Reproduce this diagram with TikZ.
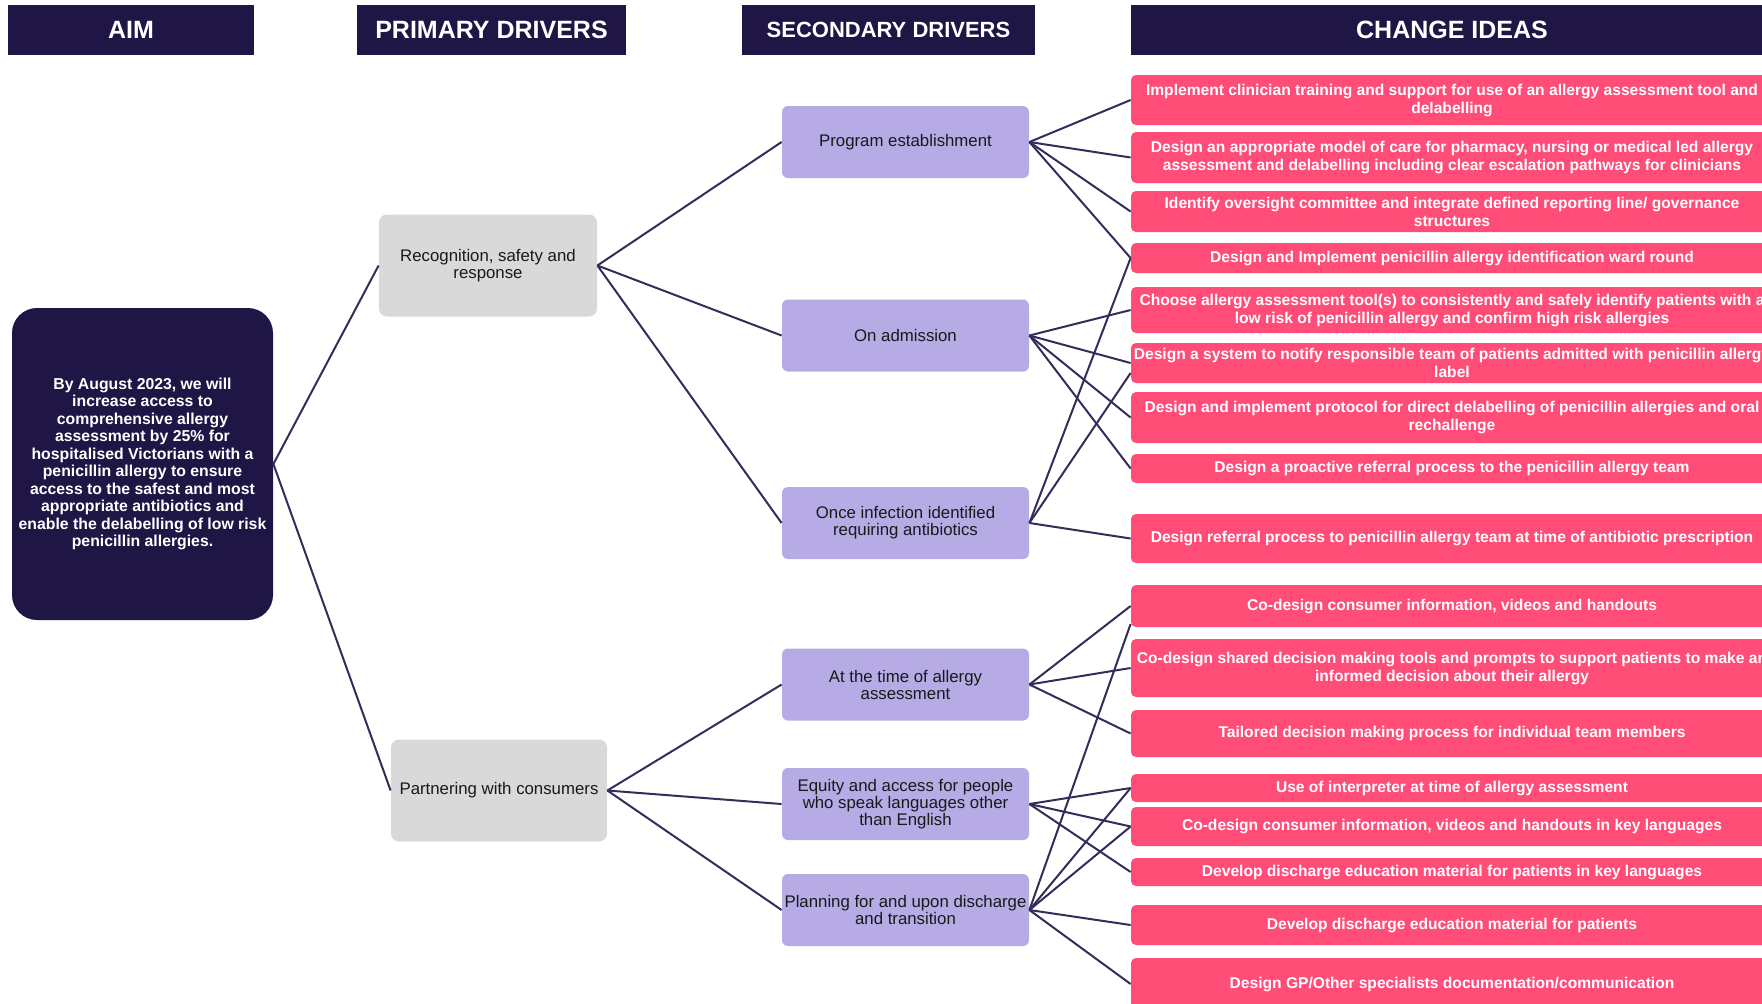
\documentclass[tikz,border=0pt]{standalone}
\usepackage{fontspec}
\setmainfont{Liberation Sans}
\usepackage{tikz}
\definecolor{dnavy}{HTML}{1F1646}
\definecolor{dpink}{HTML}{FF4D77}
\definecolor{dlilac}{HTML}{B7ABE6}
\definecolor{dgrey}{HTML}{D9D9D9}

\begin{document}
\begin{tikzpicture}[x=0.5pt,y=-0.5pt,
  head/.style={fill=dnavy,text=white,font=\bfseries\fontsize{12.5}{14}\selectfont,
               minimum height=25pt,inner sep=0pt},
  aimbox/.style={fill=dnavy,text=white,rounded corners=12.5pt,align=center,minimum width=130.5pt,
                 minimum height=156pt,inner sep=1pt,font=\bfseries\fontsize{7.9}{8.75}\selectfont},
  prim/.style={fill=dgrey,rounded corners=4pt,align=center,minimum height=51pt,
               text=black!90,font=\fontsize{8.4}{8.5}\selectfont},
  sec/.style={fill=dlilac,rounded corners=3pt,align=center,minimum width=123.5pt,minimum height=36pt,
              inner xsep=1pt,text=black!90,font=\fontsize{8.4}{8.5}\selectfont},
  idea/.style={fill=dpink,text=white,rounded corners=2.5pt,align=center,minimum width=321pt,
               inner xsep=1pt,inner ysep=0pt,font=\bfseries\fontsize{7.8}{9}\selectfont},
  link/.style={draw=dnavy!90,line width=1pt}]
  \useasboundingbox (0,0) rectangle (1762,1003);
  \fill[white] (0,0) rectangle (1762,1003);
  \clip (0,0) rectangle (1762,1003);

  % column heads
  \node[head,minimum width=123pt] (haim) at (131,30) {AIM};
  \node[head,minimum width=134.5pt] (hprim) at (491.5,30) {PRIMARY DRIVERS};
  \node[head,minimum width=146.5pt,font=\bfseries\fontsize{11}{13}\selectfont] (hsec) at (888.5,30) {SECONDARY DRIVERS};
  \node[head,minimum width=321pt] (hidea) at (1452,30) {CHANGE IDEAS};

  \node[aimbox] (aim) at (142.5,464) {By August 2023, we will\\increase access to\\comprehensive allergy\\
    assessment by 25\% for\\hospitalised Victorians with a\\penicillin allergy to ensure\\
    access to the safest and most\\appropriate antibiotics and\\enable the delabelling of low risk\\
    penicillin allergies.};

  \node[prim,minimum width=109pt] (rec) at (488,265.5) {Recognition, safety and\\response};
  \node[prim,minimum width=108pt] (par) at (499,790.5) {Partnering with consumers};

  \node[sec] (s1) at (905.5,142) {Program establishment};
  \node[sec] (s2) at (905.5,335.5) {On admission};
  \node[sec] (s3) at (905.5,523) {Once infection identified\\requiring antibiotics};
  \node[sec] (s4) at (905.5,684.5) {At the time of allergy\\assessment};
  \node[sec] (s5) at (905.5,804) {Equity and access for people\\who speak languages other\\than English};
  \node[sec] (s6) at (905.5,910) {Planning for and upon discharge\\and transition};

  \node[idea,minimum height=25pt] (i1) at (1452,100) {Implement clinician training and support for use of an allergy assessment tool and\\delabelling};
  \node[idea,minimum height=25.5pt] (i2) at (1452,157.5) {Design an appropriate model of care for pharmacy, nursing or medical led allergy\\assessment and delabelling including clear escalation pathways for clinicians};
  \node[idea,minimum height=20.5pt] (i3) at (1452,211.5) {Identify oversight committee and integrate defined reporting line/ governance\\structures};
  \node[idea,minimum height=15pt] (i4) at (1452,258) {Design and Implement penicillin allergy identification ward round};
  \node[idea,minimum height=23pt] (i5) at (1452,310) {Choose allergy assessment tool(s) to consistently and safely identify patients with a\\low risk of penicillin allergy and confirm high risk allergies};
  \node[idea,minimum height=20pt] (i6) at (1452,363) {Design a system to notify responsible team of patients admitted with penicillin allergy\\label};
  \node[idea,minimum height=25.5pt] (i7) at (1452,417.5) {Design and implement protocol for direct delabelling of penicillin allergies and oral\\rechallenge};
  \node[idea,minimum height=14.5pt] (i8) at (1452,468.5) {Design a proactive referral process to the penicillin allergy team};
  \node[idea,minimum height=24.5pt] (i9) at (1452,538.5) {Design referral process to penicillin allergy team at time of antibiotic prescription};
  \node[idea,minimum height=21pt] (i10) at (1452,606) {Co-design consumer information, videos and handouts};
  \node[idea,minimum height=29pt] (i11) at (1452,668) {Co-design shared decision making tools and prompts to support patients to make an\\informed decision about their allergy};
  \node[idea,minimum height=23.5pt] (i12) at (1452,733.5) {Tailored decision making process for individual team members};
  \node[idea,minimum height=14pt] (i13) at (1452,788) {Use of interpreter at time of allergy assessment};
  \node[idea,minimum height=19.5pt] (i14) at (1452,826.5) {Co-design consumer information, videos and handouts in key languages};
  \node[idea,minimum height=14pt] (i15) at (1452,872) {Develop discharge education material for patients in key languages};
  \node[idea,minimum height=20pt] (i16) at (1452,925) {Develop discharge education material for patients};
  \node[idea,minimum height=26pt] (i17) at (1452,984) {Design GP/Other specialists documentation/communication};

  \draw[link] (aim.east)--(rec.west); \draw[link] (aim.east)--(par.west);
  \draw[link] (rec.east)--(s1.west); \draw[link] (rec.east)--(s2.west); \draw[link] (rec.east)--(s3.west);
  \draw[link] (par.east)--(s4.west); \draw[link] (par.east)--(s5.west); \draw[link] (par.east)--(s6.west);
  \draw[link] (s1.east)--(i1.west); \draw[link] (s1.east)--(i2.west);
  \draw[link] (s1.east)--(i3.west); \draw[link] (s1.east)--(i4.west);
  \draw[link] (s2.east)--(i5.west); \draw[link] (s2.east)--(i6.west);
  \draw[link] (s2.east)--(i7.west); \draw[link] (s2.east)--(i8.west);
  \draw[link] (s3.east)--(i4.west); \draw[link] (s3.east)--([yshift=-5pt]i6.west); \draw[link] (s3.east)--(i9.west);
  \draw[link] (s4.east)--(i10.west); \draw[link] (s4.east)--(i11.west); \draw[link] (s4.east)--(i12.west);
  \draw[link] (s5.east)--(i13.west); \draw[link] (s5.east)--(i14.west); \draw[link] (s5.east)--(i15.west);
  \draw[link] (s6.east)--([yshift=-9pt]i10.west); \draw[link] (s6.east)--(i13.west); \draw[link] (s6.east)--(i14.west);
  \draw[link] (s6.east)--(i16.west); \draw[link] (s6.east)--(i17.west);
\end{tikzpicture}
\end{document}
